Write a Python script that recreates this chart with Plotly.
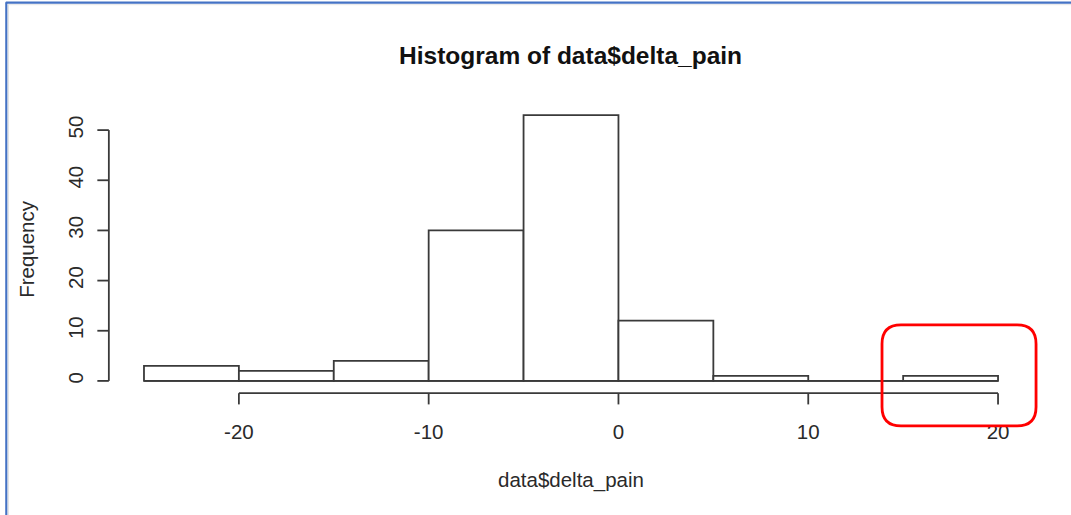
import plotly.graph_objects as go

# ---- data ----
bin_edges = [-25, -20, -15, -10, -5, 0, 5, 10, 15, 20]
counts = [3, 2, 4, 30, 53, 12, 1, 0, 1]
x_ticks = [-20, -10, 0, 10, 20]
y_ticks = [0, 10, 20, 30, 40, 50]
title_text = "Histogram of data$delta_pain"
x_title = "data$delta_pain"
y_title = "Frequency"

W, H = 1071, 515
XR = [-26.0, 22.0]
YR = [-5.0, 56.0]
# pixel layout of plot area
PX_PER_X = 18.975
X0_PX = 618.5
PX_PER_Y = 5.02
Y0_PX = 381.0
left = X0_PX + PX_PER_X * XR[0]
right = X0_PX + PX_PER_X * XR[1]
top = Y0_PX - PX_PER_Y * YR[1]
bottom = Y0_PX - PX_PER_Y * YR[0]
pw, ph = right - left, bottom - top


def pxx(p):
    return (p - left) / pw


def pxy(p):
    return (bottom - p) / ph


centers = [(a + b) / 2 for a, b in zip(bin_edges[:-1], bin_edges[1:])]
widths = [b - a for a, b in zip(bin_edges[:-1], bin_edges[1:])]

LC = "#3a3a3a"
LW = 1.8
fig = go.Figure()
fig.add_trace(go.Bar(x=centers, y=counts, width=widths,
                     marker=dict(color="white", line=dict(color=LC, width=LW)),
                     hoverinfo="skip"))
fig.add_trace(go.Scatter(x=[bin_edges[0], bin_edges[-1]], y=[0, 0], mode="lines",
                         line=dict(color=LC, width=LW), hoverinfo="skip"))

shapes = []
# x axis line and ticks
xa_y = pxy(393.3)
xt_y = pxy(404.5)
shapes.append(dict(type="line", xref="x", yref="paper", x0=x_ticks[0], x1=x_ticks[-1],
                   y0=xa_y, y1=xa_y, line=dict(color=LC, width=LW)))
for t in x_ticks:
    shapes.append(dict(type="line", xref="x", yref="paper", x0=t, x1=t,
                       y0=xa_y, y1=xt_y, line=dict(color=LC, width=LW)))
# y axis line and ticks
ya_x = pxx(109)
yt_x = pxx(97.5)
shapes.append(dict(type="line", xref="paper", yref="y", x0=ya_x, x1=ya_x,
                   y0=y_ticks[0], y1=y_ticks[-1], line=dict(color=LC, width=LW)))
for t in y_ticks:
    shapes.append(dict(type="line", xref="paper", yref="y", x0=ya_x, x1=yt_x,
                       y0=t, y1=t, line=dict(color=LC, width=LW)))

# blue frame (screenshot border)
shapes.append(dict(type="line", xref="paper", yref="paper", x0=pxx(6.5), x1=pxx(6.5),
                   y0=pxy(2), y1=pxy(520), line=dict(color="#4472C4", width=2.2)))
shapes.append(dict(type="line", xref="paper", yref="paper", x0=pxx(6), x1=pxx(1080),
                   y0=pxy(2.5), y1=pxy(2.5), line=dict(color="#4472C4", width=2.2)))
shapes.append(dict(type="line", xref="paper", yref="paper", x0=pxx(8.5), x1=pxx(8.5),
                   y0=pxy(4), y1=pxy(520), line=dict(color="#dddddd", width=1)))
shapes.append(dict(type="line", xref="paper", yref="paper", x0=pxx(8), x1=pxx(1080),
                   y0=pxy(4.5), y1=pxy(4.5), line=dict(color="#e6e6e6", width=1)))

# red rounded rectangle
rx0, rx1, ry0, ry1, r = 882, 1036, 325, 426, 19


def P(x, y):
    return f"{pxx(x):.5f},{pxy(y):.5f}"


path = (f"M {P(rx0 + r, ry0)} L {P(rx1 - r, ry0)} Q {P(rx1, ry0)} {P(rx1, ry0 + r)} "
        f"L {P(rx1, ry1 - r)} Q {P(rx1, ry1)} {P(rx1 - r, ry1)} "
        f"L {P(rx0 + r, ry1)} Q {P(rx0, ry1)} {P(rx0, ry1 - r)} "
        f"L {P(rx0, ry0 + r)} Q {P(rx0, ry0)} {P(rx0 + r, ry0)} Z")
shapes.append(dict(type="path", xref="paper", yref="paper", path=path,
                   line=dict(color="#ff0000", width=2.8)))

FONT = "Liberation Sans, Arial, sans-serif"
TC = "#2a2a2a"
annotations = [
    dict(text=y_title, xref="paper", yref="paper", x=pxx(26), y=pxy(249), textangle=-90,
         showarrow=False, font=dict(size=20.5, color=TC, family=FONT),
         xanchor="center", yanchor="middle"),
    dict(text=x_title, xref="paper", yref="paper", x=pxx(571), y=pxy(480),
         showarrow=False, font=dict(size=20.5, color=TC, family=FONT),
         xanchor="center", yanchor="middle"),
    dict(text="<b>" + title_text + "</b>", xref="paper", yref="paper", x=pxx(571), y=pxy(55),
         showarrow=False, font=dict(size=24.5, color="#111111", family=FONT),
         xanchor="center", yanchor="middle"),
]

fig.update_layout(
    width=W, height=H,
    margin=dict(l=left, r=W - right, t=top, b=H - bottom, pad=0),
    plot_bgcolor="white", paper_bgcolor="white",
    showlegend=False,
    shapes=shapes, annotations=annotations,
    font=dict(family=FONT, color=TC, size=20.5),
    xaxis=dict(range=XR, tickvals=x_ticks, ticktext=[str(v) for v in x_ticks],
               showgrid=False, zeroline=False, showline=False,
               ticks="outside", ticklen=7, tickcolor="rgba(0,0,0,0)",
               tickfont=dict(size=20.5, color=TC)),
    yaxis=dict(range=YR, tickvals=y_ticks, ticktext=[str(v) for v in y_ticks],
               showgrid=False, zeroline=False, showline=False, tickangle=-90,
               ticks="outside", ticklen=33, tickcolor="rgba(0,0,0,0)",
               tickfont=dict(size=20.5, color=TC)),
)

fig.write_html("out.html", config={"displayModeBar": False},
               post_script="document.body.style.margin='0';")
